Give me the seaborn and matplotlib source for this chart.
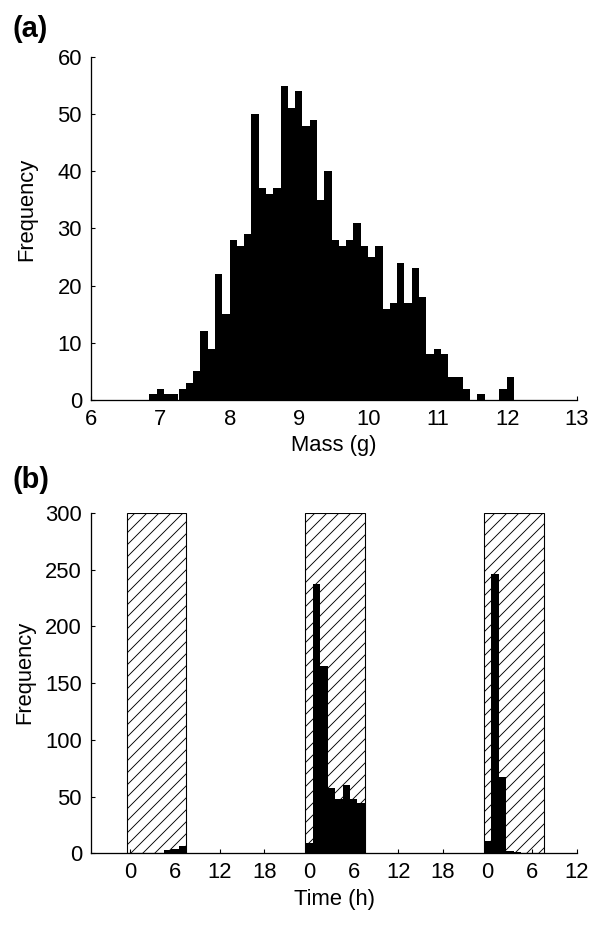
import numpy as np
import pandas as pd
import seaborn as sns
import matplotlib
matplotlib.use("Agg")
import matplotlib.pyplot as plt

# (a) mass histogram, 50 bins between min and max mass
mass_min = 6.84
mass_max = 12.09
mass_counts = [1, 2, 1, 1, 2, 3, 5, 12, 9, 22,
               15, 28, 27, 29, 50, 37, 36, 37, 55, 51,
               54, 48, 49, 35, 40, 28, 27, 28, 31, 27,
               25, 27, 16, 17, 24, 17, 23, 18, 8, 9,
               8, 4, 4, 2, 0, 1, 0, 0, 2, 4]

# (b) hourly counts over three days, dark periods hatched
hours = [5, 6, 7,
         24, 25, 26, 27, 28, 29, 30, 31,
         48, 49, 50, 51, 52]
hour_counts = [3, 4, 6,
               9, 237, 165, 58, 48, 60, 48, 44,
               11, 246, 67, 2, 1]
dark_onsets = [0, 24, 48]
dark_length = 8
time_ticks = [0, 6, 12, 18, 24, 30, 36, 42, 48, 54, 60]

sns.set_style("ticks")
plt.rcParams['font.family'] = ['Liberation Sans', 'DejaVu Sans']
plt.rcParams['hatch.linewidth'] = 0.9
plt.rcParams['text.color'] = 'black'
plt.rcParams['axes.labelcolor'] = 'black'
plt.rcParams['xtick.color'] = 'black'
plt.rcParams['ytick.color'] = 'black'
plt.rcParams['axes.edgecolor'] = 'black'
fs = 22

fig = plt.figure(figsize=(600 / 72, 928 / 72), dpi=72)
ax1 = fig.add_axes([0.1517, 0.569, 0.81, 0.3696])
ax2 = fig.add_axes([0.1517, 0.0805, 0.81, 0.3667])

# panel a
edges = np.linspace(mass_min, mass_max, len(mass_counts) + 1)
mass_df = pd.DataFrame({'mass': (edges[:-1] + edges[1:]) / 2, 'n': mass_counts})
sns.histplot(data=mass_df, x='mass', weights='n', bins=list(edges), color='black',
             alpha=1, linewidth=0, ax=ax1)
ax1.set_xlim(6, 13)
ax1.set_ylim(0, 60)
ax1.set_xticks(range(6, 14))
ax1.set_yticks(range(0, 61, 10))
ax1.set_xlabel('Mass (g)', fontsize=fs, labelpad=5)
ax1.set_ylabel('Frequency', fontsize=fs)

# panel b
for t0 in dark_onsets:
    ax2.axvspan(t0 - 0.5, t0 + dark_length - 0.5, facecolor='white',
                edgecolor='black', hatch='//', linewidth=1.1, zorder=0)
time_df = pd.DataFrame({'hour': hours, 'n': hour_counts})
sns.histplot(data=time_df, x='hour', weights='n', discrete=True, color='black',
             alpha=1, linewidth=0, ax=ax2, zorder=2)
ax2.set_xlim(-5.3, 60)
ax2.set_ylim(0, 300)
ax2.set_xticks(time_ticks)
ax2.set_xticklabels([str(t % 24) for t in time_ticks])
ax2.set_yticks(range(0, 301, 50))
ax2.set_xlabel('Time (h)', fontsize=fs, labelpad=6)
ax2.set_ylabel('Frequency', fontsize=fs)

for ax in (ax1, ax2):
    sns.despine(ax=ax)
    ax.tick_params(direction='in', length=4, width=1.1, labelsize=fs)
    ax.tick_params(axis='y', pad=9)
    ax.tick_params(axis='x', pad=9)
    for s in ('left', 'bottom'):
        ax.spines[s].set_linewidth(1.3)

ax1.yaxis.set_label_coords(-0.111, 0.555)
ax2.yaxis.set_label_coords(-0.114, 0.532)

fig.text(0.02, 1 - 29 / 928, '(a)', fontsize=29, fontweight='bold', va='center')
fig.text(0.02, 1 - 480 / 928, '(b)', fontsize=29, fontweight='bold', va='center')

fig.savefig('out.png', dpi=72)
